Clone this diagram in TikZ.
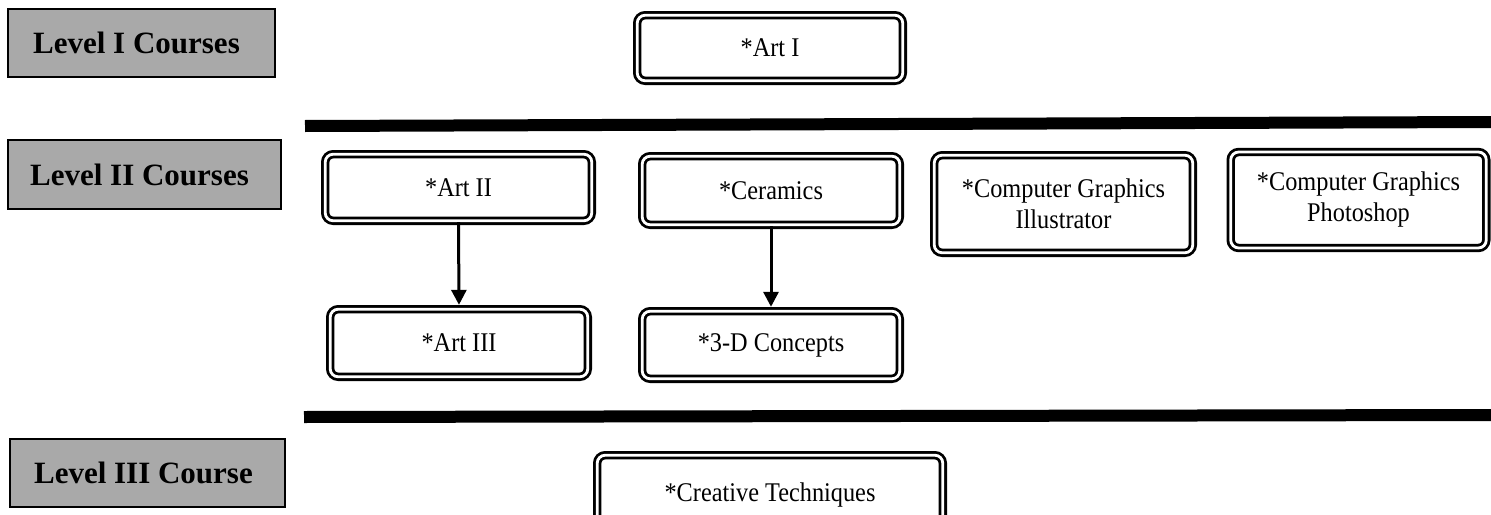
\documentclass[tikz,border=0pt]{standalone}
\usepackage{fontspec}
\setmainfont{Liberation Serif}
\newfontfamily\coursefont{Liberation Serif}[FakeStretch=0.9]
\usetikzlibrary{arrows.meta}
\definecolor{levelgray}{HTML}{A9A9A9}
\tikzset{
  course/.style={draw=black, double=white, line width=2.8pt, double distance=2.8pt,
    rounded corners=8pt, inner sep=0pt, align=center,
    font=\coursefont\fontsize{27}{31}\selectfont},
  level/.style={draw=black, fill=levelgray, line width=1.6pt, inner sep=0pt,
    font=\bfseries\fontsize{31}{34}\selectfont},
  divider/.style={line width=12pt, black},
  flow/.style={line width=3pt, -{Triangle[width=15pt,length=15pt]}, shorten >=3pt}
}
\begin{document}
\begin{tikzpicture}[x=1pt,y=-1pt]
\useasboundingbox (0,0) rectangle (1491,514);
\clip (0,0) rectangle (1491,514);
\fill[white] (0,0) rectangle (1491,514);

% level labels
\node[level, minimum width=267pt, minimum height=68pt] (l1) at (141.5,43) {\hspace{-10pt}Level I Courses};
\node[level, minimum width=273pt, minimum height=69pt] (l2) at (144.5,174.5) {\hspace{-10pt}Level II Courses};
\node[level, minimum width=275pt, minimum height=68pt] (l3) at (147.5,473) {\hspace{-8pt}Level III Course};

% dividers
\coordinate (d1a) at (305,126);
\coordinate (d1b) at (1491,122);
\coordinate (d2a) at (304,417);
\coordinate (d2b) at (1491,415);
\draw[divider] (d1a) -- (d1b);
\draw[divider] (d2a) -- (d2b);

% courses
\node[course, minimum width=265.6pt, minimum height=65.6pt] (art1) at (770,48) {*Art I};
\node[course, minimum width=266.6pt, minimum height=66.6pt] (art2) at (458.5,187.5) {*Art II};
\node[course, minimum width=257.6pt, minimum height=68.6pt] (cer) at (771,190.5) {*Ceramics};
\node[course, minimum width=258.6pt, minimum height=97.6pt] (cgi) at (1063.5,204) {*Computer Graphics\\Illustrator};
\node[course, minimum width=255.6pt, minimum height=96pt] (cgp) at (1358.5,200) {*Computer Graphics\\Photoshop};
\node[course, minimum width=257.6pt, minimum height=67.6pt] (art3) at (459,343) {*Art III};
\node[course, minimum width=257.6pt, minimum height=67.6pt] (tdc) at (771,345) {*3-D Concepts};
\node[course, minimum width=345.6pt, minimum height=79.6pt] (ct) at (770,495) {*Creative Techniques};

% connectors
\draw[flow] (art2.south) -- (art3.north);
\draw[flow] (cer.south) -- (tdc.north);
\end{tikzpicture}
\end{document}
